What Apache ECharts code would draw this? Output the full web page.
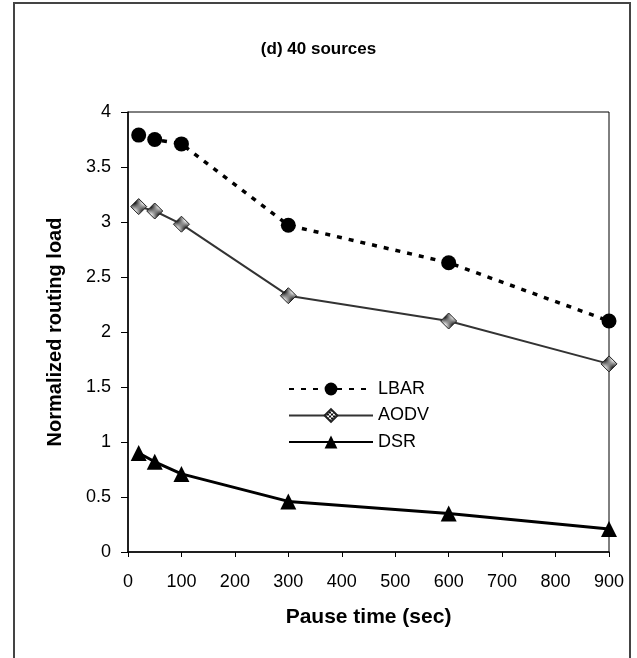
<!DOCTYPE html>
<html>
<head>
<meta charset="utf-8">
<script src="https://cdn.jsdelivr.net/npm/echarts@6/dist/echarts.min.js"></script>
<style>
  html, body { margin: 0; padding: 0; background: #fff; }
  #chart { width: 637px; height: 658px; }
</style>
</head>
<body>
<div id="chart"></div>
<script>
// data
const pauseTimes = [20, 50, 100, 300, 600, 900]
const lbar = [3.79, 3.75, 3.71, 2.97, 2.63, 2.10]
const aodv = [3.14, 3.10, 2.98, 2.33, 2.10, 1.71]
const dsr = [0.90, 0.82, 0.71, 0.46, 0.35, 0.21]
const seriesNames = ['LBAR', 'AODV', 'DSR']

const font = 'Arial, "Liberation Sans", sans-serif'

// checkered fill for the AODV diamonds
const pat = document.createElement('canvas')
pat.width = 4
pat.height = 4
const pctx = pat.getContext('2d')
pctx.fillStyle = '#fff'
pctx.fillRect(0, 0, 4, 4)
pctx.fillStyle = '#111'
pctx.fillRect(0, 0, 2, 2)
pctx.fillRect(2, 2, 2, 2)

const pairs = ys => pauseTimes.map((x, i) => [x, ys[i]])

const chart = echarts.init(document.getElementById('chart'))
const option = {
  backgroundColor: '#fff',
  animation: false,
  title: {
    text: '(d) 40 sources',
    left: 'center',
    top: 36,
    textStyle: { fontFamily: font, fontSize: 17, fontWeight: 'bold', color: '#000' }
  },
  // outer frame
  graphic: [{
    type: 'rect',
    shape: { x: 14, y: 3, width: 616, height: 720 },
    style: { fill: 'none', stroke: '#444', lineWidth: 2 }
  }],
  grid: {
    left: 128,
    right: 28,
    top: 112,
    bottom: 106,
    show: true,
    borderColor: '#000',
    borderWidth: 1
  },
  legend: {
    orient: 'vertical',
    left: 283,
    top: 375,
    itemWidth: 84,
    itemHeight: 16,
    itemGap: 8.5,
    textStyle: { fontFamily: font, fontSize: 18, color: '#000' },
    data: seriesNames
  },
  xAxis: {
    type: 'value',
    min: 0,
    max: 900,
    interval: 100,
    name: 'Pause time (sec)',
    nameLocation: 'middle',
    nameGap: 55,
    nameTextStyle: { fontFamily: font, fontSize: 21, fontWeight: 'bold', color: '#000' },
    axisLine: { lineStyle: { color: '#000', width: 1.5 } },
    axisTick: { show: true, length: 5, lineStyle: { color: '#000' } },
    axisLabel: { margin: 21, fontFamily: font, fontSize: 18, color: '#000' },
    splitLine: { show: false }
  },
  yAxis: {
    type: 'value',
    min: 0,
    max: 4,
    interval: 0.5,
    name: 'Normalized routing load',
    nameLocation: 'middle',
    nameGap: 63,
    nameTextStyle: { fontFamily: font, fontSize: 20, fontWeight: 'bold', color: '#000' },
    axisLine: { show: true, lineStyle: { color: '#000', width: 1.5 } },
    axisTick: { show: true, length: 7, lineStyle: { color: '#000' } },
    axisLabel: { margin: 17, fontFamily: font, fontSize: 18, color: '#000' },
    splitLine: { show: false }
  },
  series: [
    {
      name: 'LBAR',
      type: 'line',
      data: pairs(lbar),
      symbol: 'circle',
      symbolSize: 15,
      lineStyle: { color: '#000', width: 3.5, type: [5, 7] },
      itemStyle: { color: '#000' }
    },
    {
      name: 'AODV',
      type: 'line',
      data: pairs(aodv),
      symbol: 'diamond',
      symbolSize: 16,
      lineStyle: { color: '#333', width: 2 },
      itemStyle: { color: { image: pat, repeat: 'repeat' }, borderColor: '#222', borderWidth: 1 }
    },
    {
      name: 'DSR',
      type: 'line',
      data: pairs(dsr),
      symbol: 'triangle',
      symbolSize: 16,
      lineStyle: { color: '#000', width: 3 },
      itemStyle: { color: '#000' }
    }
  ]
}
chart.setOption(option)
</script>
</body>
</html>
